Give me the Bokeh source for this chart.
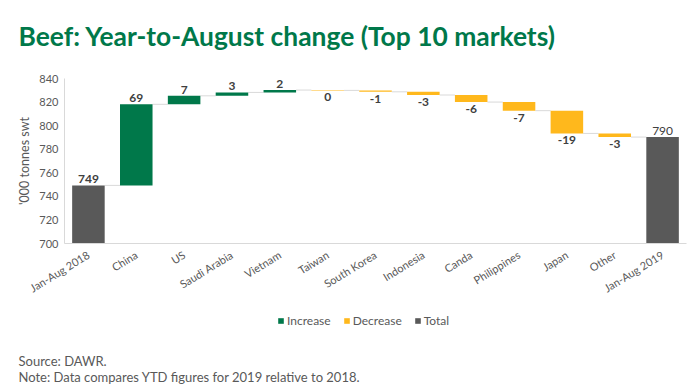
from bokeh.plotting import figure
from bokeh.models import (ColumnDataSource, Range1d, FixedTicker, Legend, LegendItem,
                          Label, LinearAxis)
from bokeh.core.properties import value
from bokeh.embed import file_html
from bokeh.resources import INLINE

# ---------------- data ----------------
categories = ["Jan-Aug 2018", "China", "US", "Saudi Arabia", "Vietnam", "Taiwan",
              "South Korea", "Indonesia", "Canda", "Philippines", "Japan", "Other",
              "Jan-Aug 2019"]
start_total = 749.3
changes = [68.8, 7.2, 2.9, 2.0, -0.3, -1.2, -2.7, -6.0, -7.3, -19.3, -3.1]
end_total = 790.3
y_ticks = [700, 720, 740, 760, 780, 800, 820, 840]

# ---------------- styling / layout ----------------
GREEN = "#00784A"
YELLOW = "#FFB81C"
GREY = "#595959"
TXT = "#595959"
LBL = "#404040"
FONT = "Lato"
BAR_W = 0.68
W, H = 700, 390
# plot area in page pixels
FRAME_L, FRAME_R, FRAME_T, FRAME_B = 64, 686, 78, 243

n = len(categories)
xs = list(range(n))
px_per_x = (FRAME_R - FRAME_L) / n
x_lo = -0.5 - FRAME_L / px_per_x
x_hi = n - 0.5 + (W - FRAME_R) / px_per_x
px_per_y = (FRAME_B - FRAME_T) / (y_ticks[-1] - y_ticks[0])
y_lo = y_ticks[0] - (H - FRAME_B) / px_per_y
y_hi = y_ticks[-1] + FRAME_T / px_per_y

# ---------------- derived geometry ----------------
base = y_ticks[0]
inc = dict(x=[], bottom=[], top=[], label=[])
dec = dict(x=[], bottom=[], top=[], label=[])
levels = [start_total]
level = start_total
for i, c in enumerate(changes):
    new = level + c
    d = inc if c > 0 else dec
    d["x"].append(xs[i + 1])
    d["bottom"].append(min(level, new))
    d["top"].append(max(level, new))
    d["label"].append(str(int(round(c))))
    level = new
    levels.append(level)

tot = dict(x=[xs[0], xs[-1]], bottom=[base, base], top=[start_total, end_total],
           label=[str(int(round(start_total))), str(int(round(end_total)))])

con = dict(x0=[xs[i] + BAR_W / 2 for i in range(len(levels))],
           x1=[xs[i + 1] - BAR_W / 2 for i in range(len(levels))],
           y=levels)

p = figure(width=W, height=H, x_range=Range1d(x_lo, x_hi), y_range=Range1d(y_lo, y_hi),
           x_axis_location=None, y_axis_location=None, output_backend="svg",
           toolbar_location=None, min_border=0)
p.outline_line_color = None
p.grid.visible = False

p.segment(x0="x0", x1="x1", y0="y", y1="y", source=ColumnDataSource(con),
          line_color="#D9D9D9", line_width=1)

r_inc = p.vbar(x="x", bottom="bottom", top="top", width=BAR_W, source=ColumnDataSource(inc),
               fill_color=GREEN, line_color=None)
r_dec = p.vbar(x="x", bottom="bottom", top="top", width=BAR_W, source=ColumnDataSource(dec),
               fill_color=YELLOW, line_color=None)
r_tot = p.vbar(x="x", bottom="bottom", top="top", width=BAR_W, source=ColumnDataSource(tot),
               fill_color=GREY, line_color=None)

# value labels
lab_kw = dict(text_align="center", text_font=value(FONT), text_font_size="12px", text_color=LBL)
p.text(x="x", y="top", text="label", source=ColumnDataSource(inc), text_baseline="bottom",
       y_offset=-2, text_font_style="bold", **lab_kw)
p.text(x="x", y="bottom", text="label", source=ColumnDataSource(dec), text_baseline="top",
       y_offset=3, text_font_style="bold", **lab_kw)
tot_start = {k: v[:1] for k, v in tot.items()}
tot_end = {k: v[1:] for k, v in tot.items()}
p.text(x="x", y="top", text="label", source=ColumnDataSource(tot_start), text_baseline="bottom",
       y_offset=-2, text_font_style="bold", **lab_kw)
p.text(x="x", y="top", text="label", source=ColumnDataSource(tot_end), text_baseline="bottom",
       y_offset=-2, text_font_style="normal", **lab_kw)

# axes (drawn at the plot-area edges)
xaxis = LinearAxis(fixed_location=y_ticks[0], bounds=(-0.5, n - 0.5),
                   ticker=FixedTicker(ticks=xs),
                   major_label_overrides={x: c for x, c in zip(xs, categories)},
                   major_label_orientation=0.55)
yaxis = LinearAxis(fixed_location=-0.5, bounds=(y_ticks[0], y_ticks[-1]),
                   ticker=FixedTicker(ticks=y_ticks))
for ax in (xaxis, yaxis):
    ax.axis_line_color = "#D9D9D9"
    ax.major_tick_line_color = None
    ax.minor_tick_line_color = None
    ax.major_tick_out = 0
    ax.major_tick_in = 0
    ax.minor_tick_out = 0
    ax.minor_tick_in = 0
    ax.major_label_text_font = FONT
    ax.major_label_text_color = TXT
xaxis.major_label_text_font_size = "11px"
yaxis.major_label_text_font_size = "11px"
xaxis.major_label_standoff = 10
yaxis.major_label_standoff = 6
yaxis.axis_label = "'000 tonnes swt"
yaxis.axis_label_text_font = FONT
yaxis.axis_label_text_font_size = "12.5px"
yaxis.axis_label_text_font_style = "normal"
yaxis.axis_label_text_color = TXT
yaxis.axis_label_standoff = 4
p.add_layout(xaxis, "below")
p.add_layout(yaxis, "left")

# legend
legend = Legend(items=[LegendItem(label="Increase", renderers=[r_inc]),
                       LegendItem(label="Decrease", renderers=[r_dec]),
                       LegendItem(label="Total", renderers=[r_tot])],
                orientation="horizontal", location=(277, 62),
                glyph_width=7, glyph_height=7, label_text_font=FONT,
                label_text_font_size="12px", label_text_color=TXT,
                label_standoff=3, spacing=12, padding=0, margin=0,
                border_line_color=None, background_fill_alpha=0)
p.add_layout(legend, "center")

# title and notes (screen units measured from the bottom-left)
p.add_layout(Label(x=18, y=H - 35, x_units="screen", y_units="screen",
                   text="Beef: Year-to-August change (Top 10 markets)",
                   text_font=FONT, text_font_size="26.4px", text_font_style="bold",
                   text_color=GREEN, text_baseline="alphabetic"))
p.add_layout(Label(x=18, y=H - 360, x_units="screen", y_units="screen",
                   text="Source: DAWR.", text_font=FONT, text_font_size="13px",
                   text_color=TXT, text_baseline="alphabetic"))
p.add_layout(Label(x=18, y=H - 376, x_units="screen", y_units="screen",
                   text="Note: Data compares YTD figures for 2019 relative to 2018.",
                   text_font=FONT, text_font_size="13px",
                   text_color=TXT, text_baseline="alphabetic"))

open("out.html", "w").write(file_html(p, INLINE))
